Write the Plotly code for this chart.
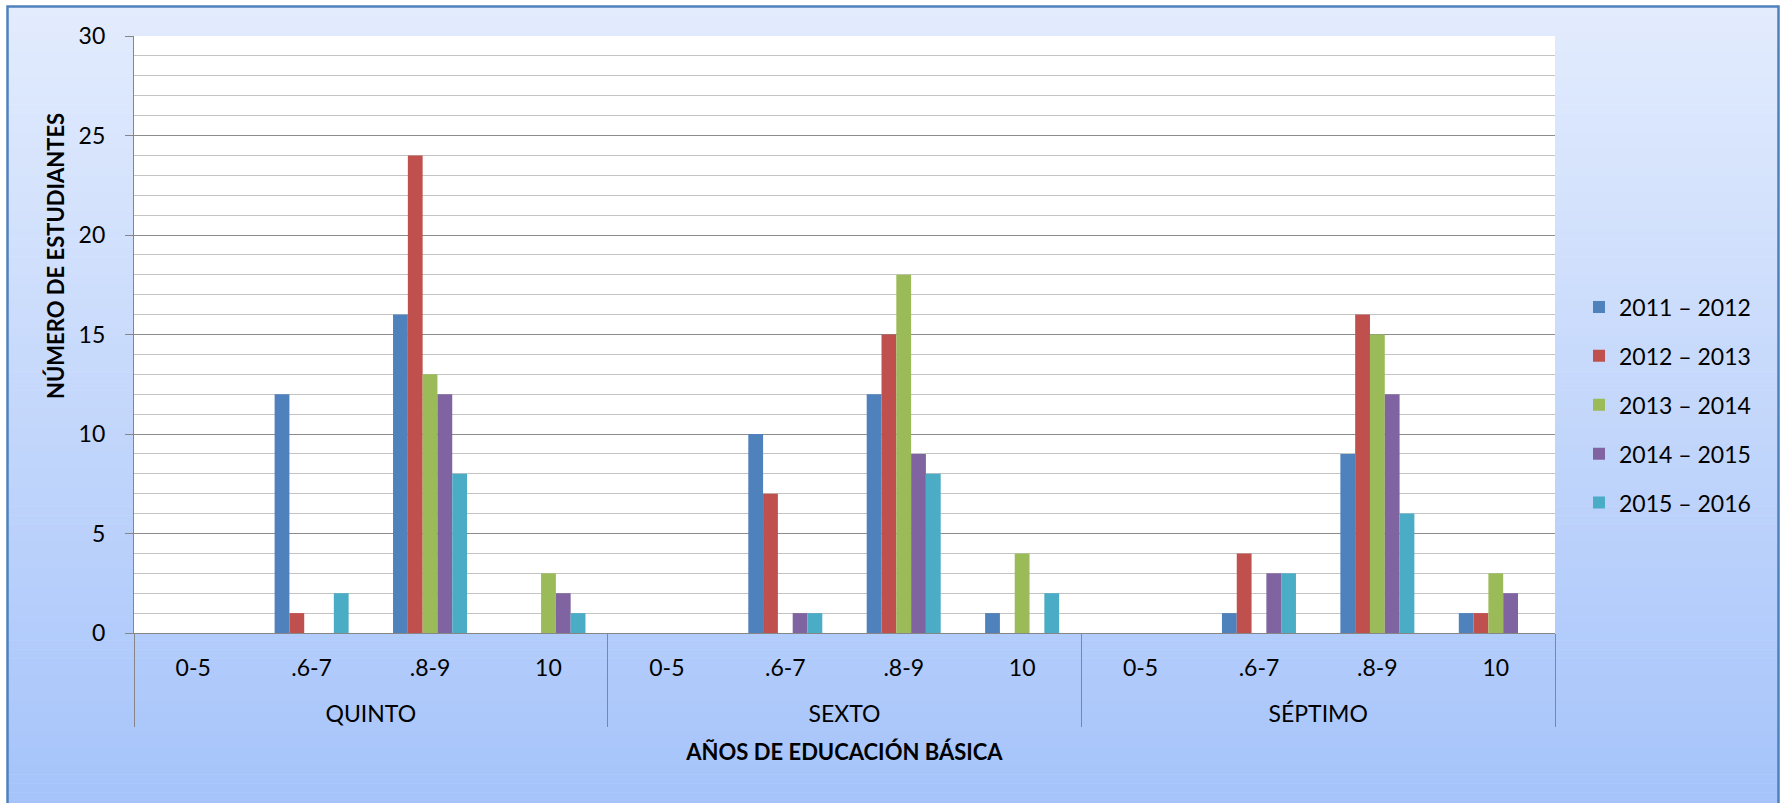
import plotly.graph_objects as go

# ---------------- data ----------------
groups = ["QUINTO", "SEXTO", "SÉPTIMO"]
ranges = ["0-5", ".6-7", ".8-9", "10"]
series_names = ["2011 – 2012", "2012 – 2013", "2013 – 2014", "2014 – 2015", "2015 – 2016"]
colors = ["#4F81BD", "#C0504D", "#9BBB59", "#8064A2", "#4BACC6"]

# values in order: QUINTO(0-5,.6-7,.8-9,10), SEXTO(...), SÉPTIMO(...)
v_2011_2012 = [0, 12, 16, 0,   0, 10, 12, 1,   0, 1, 9, 1]
v_2012_2013 = [0, 1, 24, 0,    0, 7, 15, 0,    0, 4, 16, 1]
v_2013_2014 = [0, 0, 13, 3,    0, 0, 18, 4,    0, 0, 15, 3]
v_2014_2015 = [0, 0, 12, 2,    0, 1, 9, 0,     0, 3, 12, 2]
v_2015_2016 = [0, 2, 8, 1,     0, 1, 8, 2,     0, 3, 6, 0]
series_values = [v_2011_2012, v_2012_2013, v_2013_2014, v_2014_2015, v_2015_2016]

x_title = "AÑOS DE EDUCACIÓN BÁSICA"
y_title = "NÚMERO DE ESTUDIANTES"

# ---------------- layout geometry (pixels) ----------------
W, H = 1782, 803
L, R, T, B = 134, 1555, 36, 633   # plot area edges


def px_x(px):
    return (px - L) / (R - L)


def px_y(py):
    return (B - py) / (B - T)


# group labels get an empty first line so they sit lower, as in the original
x_multi = [["<br>" + g for g in groups for _ in ranges], [r for _ in groups for r in ranges]]

fig = go.Figure()
for i, (name, vals, col) in enumerate(zip(series_names, series_values, colors)):
    fig.add_trace(go.Bar(
        x=x_multi, y=vals, name=name, legendgroup=name,
        marker=dict(color=col, line=dict(width=0)),
    ))

# ---------------- background gradient ----------------
shapes = []
top_c = (227, 236, 253)
bot_c = (165, 195, 250)
y_start, y_end = 6, 810
n = 90
step = (y_end - y_start) / n
for k in range(n):
    t = (k + 0.5) / n
    c = tuple(round(top_c[j] + (bot_c[j] - top_c[j]) * t) for j in range(3))
    py0 = y_start + k * step
    py1 = py0 + step + 0.6
    shapes.append(dict(
        type="rect", xref="paper", yref="paper", layer="below",
        x0=px_x(7), x1=px_x(1779), y0=px_y(py0), y1=px_y(py1),
        fillcolor="rgb(%d,%d,%d)" % c, line=dict(width=0),
    ))
# white plot area
shapes.append(dict(type="rect", xref="paper", yref="paper", layer="below",
                   x0=0, x1=1, y0=0, y1=1, fillcolor="white", line=dict(width=0)))
# outer border
shapes.append(dict(type="rect", xref="paper", yref="paper", layer="below",
                   x0=px_x(7.5), x1=px_x(1778.5), y0=px_y(6.5), y1=px_y(812),
                   fillcolor="rgba(0,0,0,0)", line=dict(color="#4F81BD", width=2.5)))

FONT = "Lato"
FS = 23
fig.update_layout(
    width=W, height=H,
    margin=dict(l=L, r=W - R, t=T, b=H - B, autoexpand=False),
    paper_bgcolor="white", plot_bgcolor="white",
    barmode="group", bargap=0.375, bargroupgap=0,
    font=dict(family=FONT, size=FS, color="black"),
    shapes=shapes,
    showlegend=True,
    legend=dict(
        x=px_x(1579), xanchor="left", y=px_y(405), yanchor="middle",
        bgcolor="rgba(0,0,0,0)", traceorder="grouped", tracegroupgap=16,
        font=dict(family=FONT, size=FS, color="black"),
    ),
    annotations=[dict(
        text=y_title, textangle=-90, xref="paper", yref="paper",
        x=px_x(56), y=px_y(256), xanchor="center", yanchor="middle",
        showarrow=False, font=dict(family=FONT, size=22, color="black", weight="bold"),
    )],
)

fig.update_xaxes(
    type="multicategory",
    showline=True, linecolor="#868686", linewidth=1.3,
    showgrid=False, ticks="outside", ticklen=22, tickcolor="rgba(0,0,0,0)",
    ticklabelstandoff=14,
    showdividers=True, dividercolor="#868686", dividerwidth=1.3,
    tickfont=dict(family=FONT, size=FS, color="black"),
    title=dict(text=x_title, standoff=18,
               font=dict(family=FONT, size=22, color="black", weight="bold")),
)
fig.update_yaxes(
    range=[0, 30], dtick=5, tick0=0,
    showline=True, linecolor="#868686", linewidth=1.3,
    ticks="outside", ticklen=8, tickcolor="#868686", tickwidth=1.3,
    ticklabelstandoff=15,
    showgrid=True, gridcolor="#8C8C8C", gridwidth=1.3,
    minor=dict(dtick=1, showgrid=True, gridcolor="#C4C4C4", gridwidth=1.3, ticks=""),
    zeroline=False,
    tickfont=dict(family=FONT, size=FS, color="black"),
)

fig.write_html("out.html", config={"displayModeBar": False},
               post_script="document.body.style.margin='0';")
